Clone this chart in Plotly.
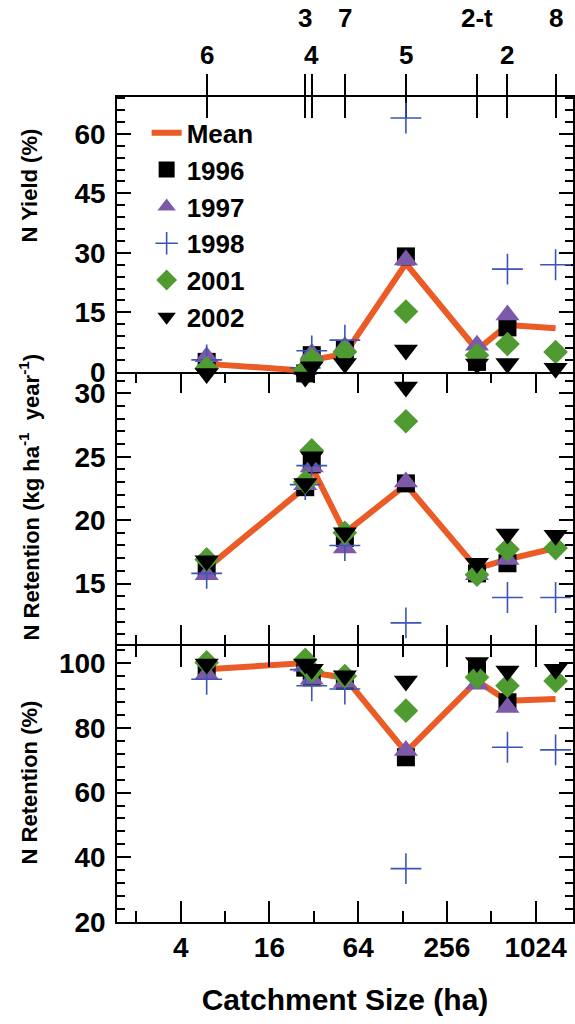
import numpy as np
import plotly.graph_objects as go

# ---------------- data ----------------
catchments = ["6", "3", "4", "7", "5", "2-t", "2", "8"]
size_ha = [6, 28, 31, 52, 135, 410, 660, 1400]
upper_row_labels = ["3", "7", "2-t", "8"]

years = ["1996", "1997", "1998", "2001", "2002"]

# N Yield (%)
yield_mean = [2.0, 0.3, 3.0, 4.5, 27.3, 5.5, 11.8, 11.0]
yield_1996 = [2.5, -0.4, 4.2, 5.5, 29.1, 2.5, 11.2, None]
yield_1997 = [3.8, 0.5, 4.6, 6.3, 28.2, 6.7, 14.3, None]
yield_1998 = [3.0, 1.0, 5.3, 8.0, 64.0, None, 25.9, 27.0]
yield_2001 = [0.9, 0.5, 3.0, 5.0, 15.2, 4.2, 7.0, 5.0]
yield_2002 = [-0.4, -1.3, 1.3, 2.1, 5.5, 2.0, 2.1, 0.9]

# N Retention (kg ha-1 year-1)
retk_mean = [16.2, 22.6, 24.2, 19.0, 22.8, 16.2, 16.9, 17.8]
retk_1996 = [16.1, 22.6, 24.4, 18.6, 22.9, 15.8, 16.6, None]
retk_1997 = [15.7, 22.8, 24.2, 17.8, 23.0, 15.7, 16.9, None]
retk_1998 = [15.8, 22.8, 24.3, 18.0, 11.9, None, 13.9, 13.9]
retk_2001 = [16.9, 23.0, 25.5, 19.0, 27.8, 15.7, 17.7, 17.8]
retk_2002 = [16.8, 22.9, 25.0, 19.0, 30.5, 16.6, 18.9, 18.8]

# N Retention (%)
retp_mean = [98.1, 100.0, 97.0, 95.5, 72.5, 94.5, 88.4, 88.9]
retp_1996 = [97.6, 98.6, 95.6, 94.5, 70.9, 97.6, 87.9, None]
retp_1997 = [96.6, 99.0, 95.0, 94.0, 73.0, 93.5, 86.3, None]
retp_1998 = [95.0, 98.0, 93.0, 92.0, 36.5, None, 74.0, 73.2]
retp_2001 = [100.2, 101.0, 97.5, 96.0, 85.3, 95.6, 93.0, 94.5]
retp_2002 = [99.7, 99.7, 98.1, 96.1, 94.5, 100.2, 97.6, 98.1]

x_ticks = [4, 16, 64, 256, 1024]
x_minor = [2, 8, 32, 128, 512]

# ---------------- style ----------------
ORANGE = "#EA5B25"
styles = {
    "1996": dict(symbol="square", size=18, color="black"),
    "1997": dict(symbol="triangle-up", size=21, color="#7C5AA9"),
    "1998": dict(symbol="cross-thin", size=22, color="#3D55B3",
                 line=dict(color="#3D55B3", width=1.6)),
    "2001": dict(symbol="diamond", size=19, color="#4F9B31"),
    "2002": dict(symbol="triangle-down", size=21, color="black"),
}

FONT = "Liberation Sans, Arial, Helvetica, sans-serif"

# top panel geometry (its data go on an invisible axis that extends a little
# below the panel, with the same scale, so slightly negative values still show)
top_dom = [0.6669, 1.0]
top_rng = [0, 69.3]
ext = 0.02
units_per_dom = (top_rng[1] - top_rng[0]) / (top_dom[1] - top_dom[0])
top_data_dom = [top_dom[0] - ext, 1.0]
top_data_rng = [top_rng[0] - ext * units_per_dom, top_rng[1]]

panels = [
    ("y6", "x3", yield_mean, [yield_1996, yield_1997, yield_1998, yield_2001, yield_2002], True),
    ("y2", "x2", retk_mean, [retk_1996, retk_1997, retk_1998, retk_2001, retk_2002], False),
    ("y", "x", retp_mean, [retp_1996, retp_1997, retp_1998, retp_2001, retp_2002], False),
]

fig = go.Figure()
for yax, xax, mean_vals, year_vals, show in panels:
    fig.add_trace(go.Scatter(
        x=size_ha, y=mean_vals, mode="lines", name="Mean",
        line=dict(color=ORANGE, width=6), xaxis=xax, yaxis=yax,
        legendgroup="Mean", showlegend=show, cliponaxis=False))
    for yr, vals in zip(years, year_vals):
        st = styles[yr]
        fig.add_trace(go.Scatter(
            x=size_ha, y=vals, mode="markers", name=yr,
            marker=dict(symbol=st["symbol"], size=st["size"], color=st["color"],
                        line=st.get("line", dict(width=0))),
            xaxis=xax, yaxis=yax, legendgroup=yr, showlegend=show,
            cliponaxis=False))

# empty traces so the visible top-panel axes are drawn
for xa in ["x3", "x4", "x5"]:
    fig.add_trace(go.Scatter(x=size_ha, y=[None] * len(size_ha), mode="markers",
                             xaxis=xa, yaxis="y3", showlegend=False, hoverinfo="skip"))

xr = [np.log10(2) * 0.5634, np.log10(2) * 10.844]
LW = 1.6
tickfont = dict(family=FONT, size=28, color="black", weight="bold")

common_x = dict(type="log", range=xr, showgrid=False, zeroline=False,
                linecolor="black", linewidth=LW)

fig.update_layout(
    width=575, height=1024,
    margin=dict(l=117, r=0, t=97, b=102),
    paper_bgcolor="white", plot_bgcolor="rgba(0,0,0,0)",
    showlegend=True,
    legend=dict(x=0.065, y=0.985, xanchor="left", yanchor="top",
                bgcolor="rgba(0,0,0,0)", itemsizing="trace",
                font=dict(family=FONT, size=26, color="black", weight="bold"),
                tracegroupgap=0),
    xaxis=dict(**common_x, anchor="y", domain=[0, 1], showline=True,
               tickvals=x_ticks, ticktext=[str(v) for v in x_ticks],
               ticks="inside", ticklen=21, tickwidth=LW, tickcolor="black",
               mirror="ticks", tickfont=tickfont,
               minor=dict(tickvals=x_minor, ticks="inside", ticklen=11,
                          tickwidth=LW, tickcolor="black", showgrid=False),
               title=dict(text="Catchment Size (ha)", standoff=27,
                          font=dict(family=FONT, size=30, color="black", weight="bold"))),
    xaxis2=dict(**common_x, anchor="y2", domain=[0, 1], showline=False,
                tickvals=x_ticks, showticklabels=False,
                ticks="inside", ticklen=21, tickwidth=LW, tickcolor="black",
                mirror="ticks",
                minor=dict(tickvals=x_minor, ticks="inside", ticklen=11,
                           tickwidth=LW, tickcolor="black", showgrid=False)),
    xaxis3=dict(**common_x, anchor="y3", domain=[0, 1], ticks="", showline=True,
                showticklabels=False, mirror=False),
    xaxis4=dict(type="log", range=xr, overlaying="x3", anchor="y3", side="top",
                showgrid=False, zeroline=False, showline=True, linecolor="black",
                linewidth=LW,
                tickvals=size_ha, showticklabels=False,
                ticks="outside", ticklen=21, tickwidth=LW, tickcolor="black"),
    xaxis5=dict(type="log", range=xr, overlaying="x3", anchor="y3", side="top",
                showgrid=False, zeroline=False, showline=False,
                tickvals=size_ha, showticklabels=False,
                ticks="inside", ticklen=21, tickwidth=LW, tickcolor="black"),
)

common_y = dict(showgrid=False, zeroline=False, showline=True, linecolor="black",
                linewidth=LW, ticks="inside", ticklen=14, tickwidth=LW,
                tickcolor="black", mirror="ticks", tickfont=tickfont,
                ticklabelstandoff=4)

fig.update_layout(
    yaxis=dict(**common_y, anchor="x", domain=[0, 0.3342], range=[20, 105.2],
               tickvals=[20, 40, 60, 80, 100],
               minor=dict(dtick=4, tick0=0, ticks="inside", ticklen=8,
                          tickwidth=LW, tickcolor="black", showgrid=False)),
    yaxis2=dict(**common_y, anchor="x2", domain=[0.3342, 0.6669], range=[10.05, 31.7],
                tickvals=[15, 20, 25, 30],
                minor=dict(dtick=1, tick0=0, ticks="inside", ticklen=8,
                           tickwidth=LW, tickcolor="black", showgrid=False)),
    yaxis3=dict(**common_y, anchor="x3", domain=top_dom, range=top_rng,
                tickvals=[0, 15, 30, 45, 60],
                minor=dict(dtick=3, tick0=0, ticks="inside", ticklen=8,
                           tickwidth=LW, tickcolor="black", showgrid=False)),
    yaxis6=dict(domain=top_data_dom, range=top_data_rng, anchor="x3",
                visible=False, showgrid=False, zeroline=False),
)

# catchment labels above the top axis (two staggered rows)
annotations = []
for name, s in zip(catchments, size_ha):
    upper = name in upper_row_labels
    annotations.append(dict(
        x=np.log10(s), y=1.096 if upper else 1.051, xref="x3", yref="paper",
        text=name, showarrow=False, xanchor="center", yanchor="middle",
        font=dict(family=FONT, size=26, color="black", weight="bold")))

# y-axis titles
ytitle_font = dict(family=FONT, size=22, color="black", weight="bold")
for txt, ypix in [("N Yield (%)", 185),
                  ("N Retention (kg ha<sup>-1</sup>  year<sup>-1</sup>)", 497),
                  ("N Retention (%)", 782)]:
    annotations.append(dict(
        x=(29 - 117) / 458, y=(922 - ypix) / 825, xref="paper", yref="paper",
        text=txt, textangle=-90, showarrow=False, xanchor="center", yanchor="middle",
        font=ytitle_font))

fig.update_layout(annotations=annotations)

fig.write_html("out.html")
